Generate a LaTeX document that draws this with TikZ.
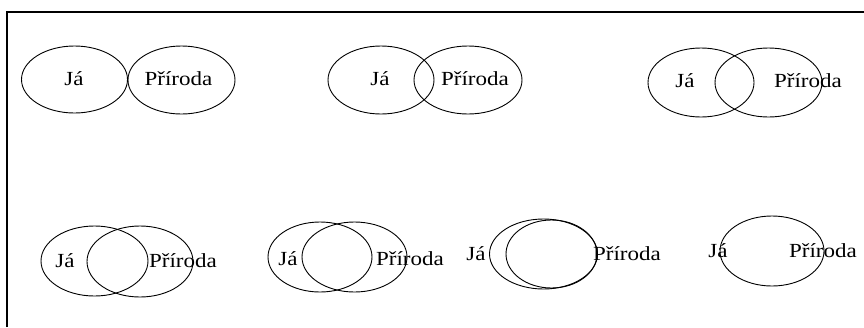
\documentclass[tikz,border=0pt]{standalone}
\usepackage{fontspec}
\setmainfont{Liberation Serif}
\begin{document}
\begin{tikzpicture}[x=1pt,y=-1pt,
  ell/.style={line width=0.9pt},
  frm/.style={line width=1.3pt},
  lbl/.style={inner sep=0pt,anchor=base,font=\fontsize{20}{20}\selectfont}]
\useasboundingbox (0,0) rectangle (864,327);
\draw[frm] (7,327) -- (7,12) -- (864,12);
% row 1
\draw[ell] (74.5,79.5) ellipse [x radius=53pt,y radius=33.5pt];
\draw[ell] (181.5,80) ellipse [x radius=53.5pt,y radius=34pt];
\node[lbl] (j1) at (74,85) {\scalebox{1.15}[1]{Já}};
\node[lbl] (p1) at (178.5,85) {\scalebox{1.15}[1]{Příroda}};
\draw[ell] (381,80) ellipse [x radius=53pt,y radius=34pt];
\draw[ell] (468,80) ellipse [x radius=54pt,y radius=34pt];
\node[lbl] (j2) at (380,85) {\scalebox{1.15}[1]{Já}};
\node[lbl] (p2) at (475,85) {\scalebox{1.15}[1]{Příroda}};
\draw[ell] (701,82.5) ellipse [x radius=53pt,y radius=34.5pt];
\draw[ell] (768.5,82.5) ellipse [x radius=53.5pt,y radius=34.5pt];
\node[lbl] (j3) at (685,87) {\scalebox{1.15}[1]{Já}};
\node[lbl] (p3) at (808,87) {\scalebox{1.15}[1]{Příroda}};
% row 2
\draw[ell] (94.5,261) ellipse [x radius=53.5pt,y radius=35pt];
\draw[ell] (140,261.5) ellipse [x radius=53pt,y radius=35.5pt];
\node[lbl] (j4) at (65,267) {\scalebox{1.15}[1]{Já}};
\node[lbl] (p4) at (183,267) {\scalebox{1.15}[1]{Příroda}};
\draw[ell] (320,257) ellipse [x radius=52pt,y radius=35pt];
\draw[ell] (354.5,257) ellipse [x radius=52.5pt,y radius=35pt];
\node[lbl] (j5) at (288,265) {\scalebox{1.15}[1]{Já}};
\node[lbl] (p5) at (410,265) {\scalebox{1.15}[1]{Příroda}};
\draw[ell] (543.5,254) ellipse [x radius=54pt,y radius=35pt];
\draw[ell] (551.5,254) ellipse [x radius=45.5pt,y radius=34pt];
\node[lbl] (j6) at (476,260) {\scalebox{1.15}[1]{Já}};
\node[lbl] (p6) at (627,260) {\scalebox{1.15}[1]{Příroda}};
\draw[ell] (772,251) ellipse [x radius=52pt,y radius=35pt];
\node[lbl] (j7) at (718,257) {\scalebox{1.15}[1]{Já}};
\node[lbl] (p7) at (823,257) {\scalebox{1.15}[1]{Příroda}};
\end{tikzpicture}
\end{document}
